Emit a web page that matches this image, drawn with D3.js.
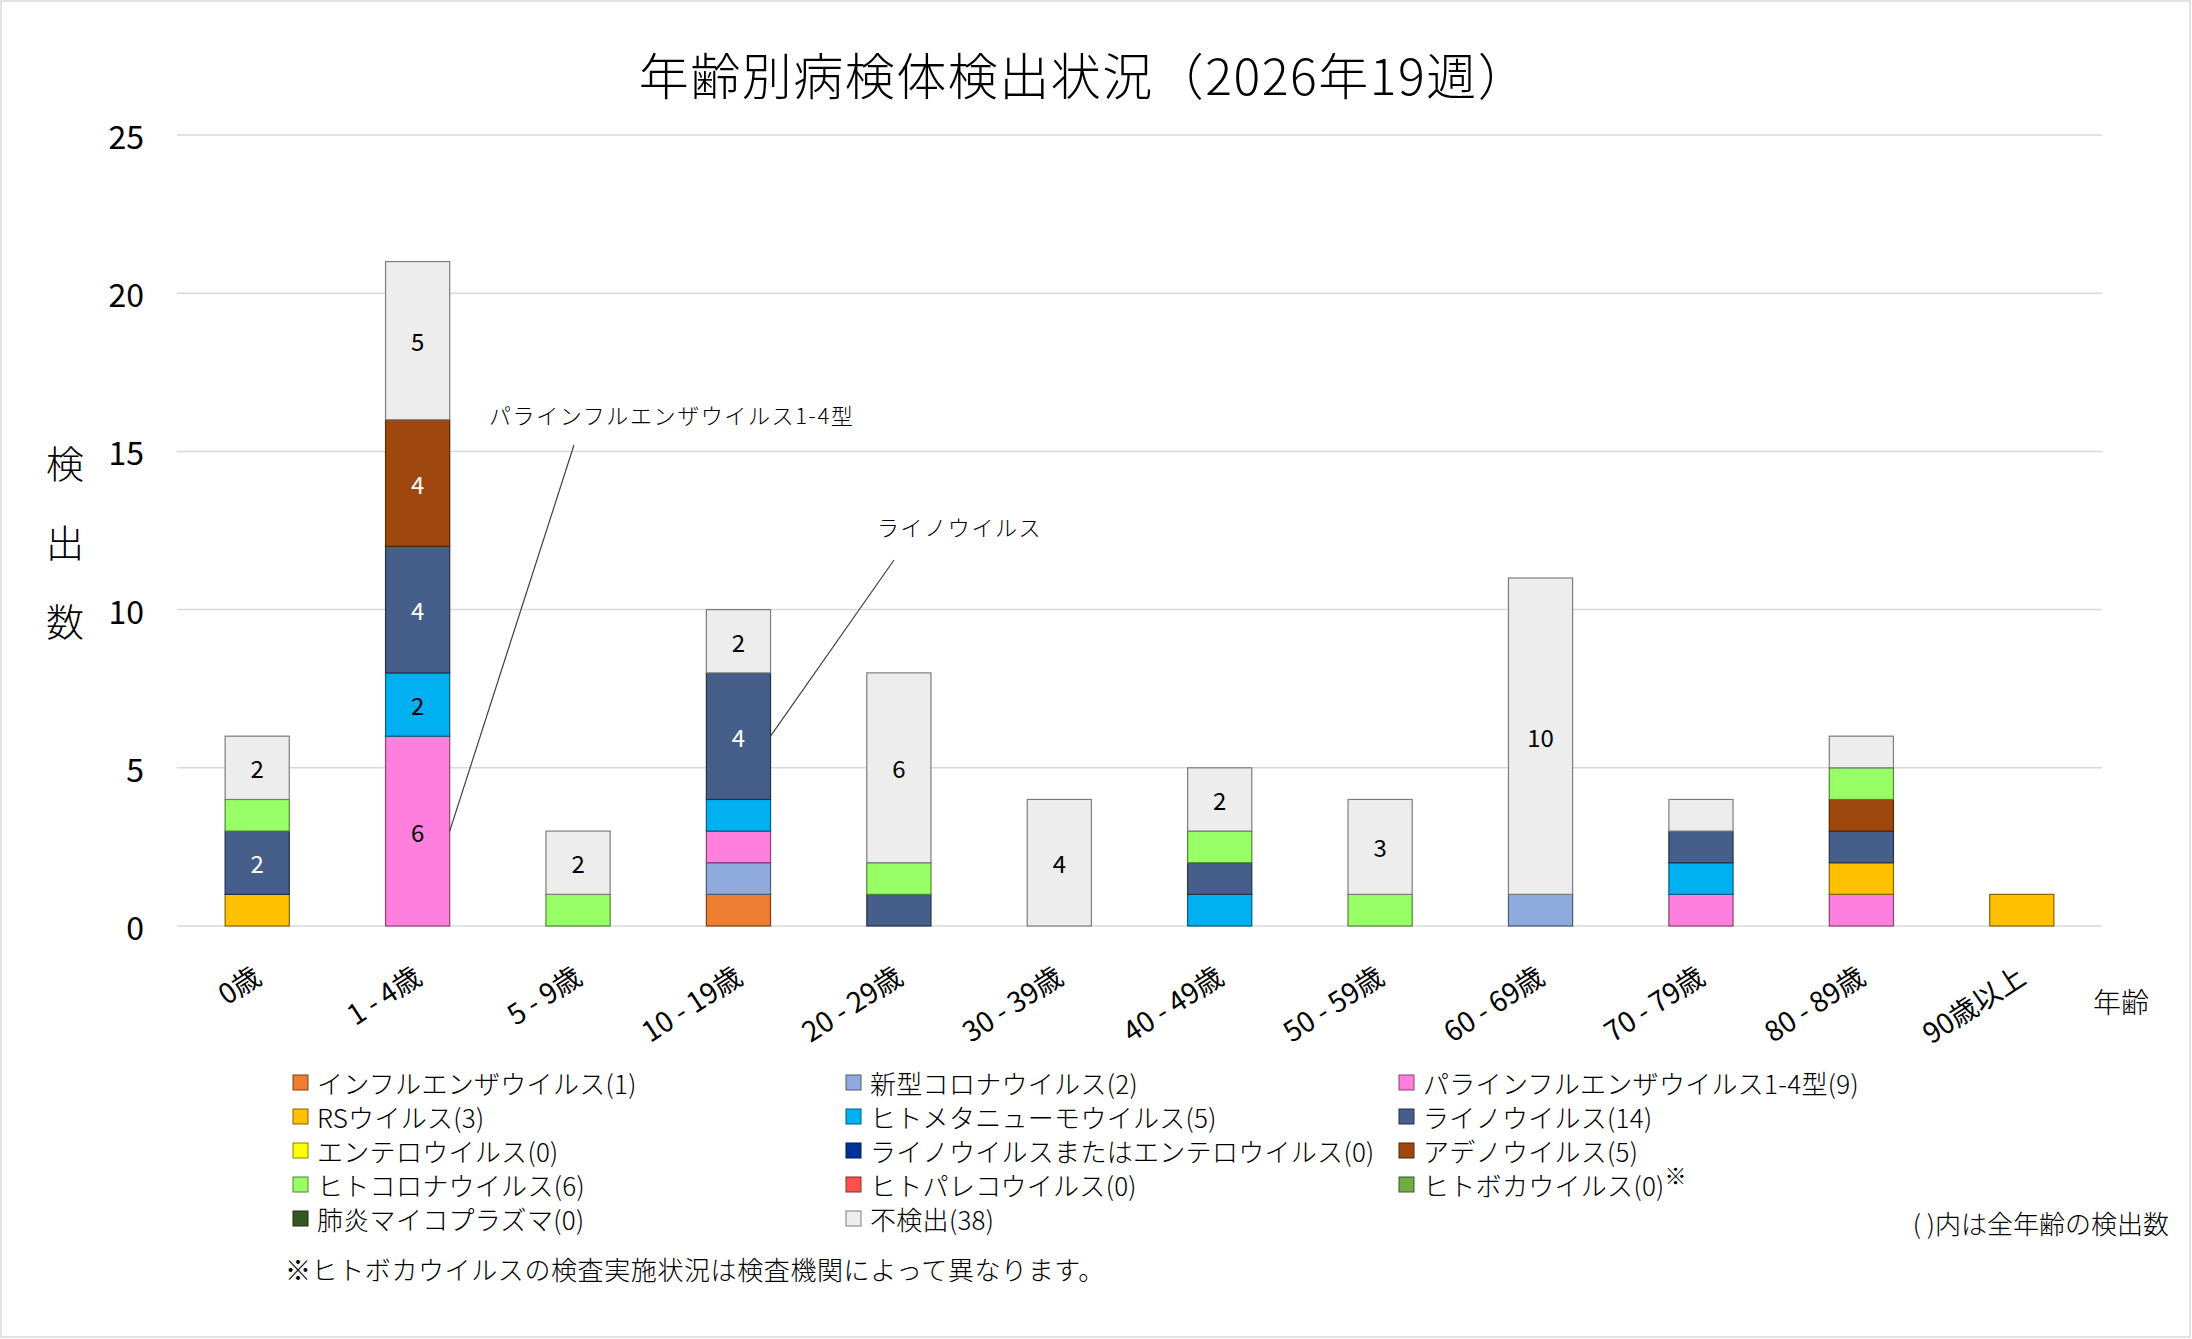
<!DOCTYPE html>
<html>
<head>
<meta charset="utf-8">
<script src="https://cdn.jsdelivr.net/npm/d3@7"></script>
<style>
  html, body { margin: 0; padding: 0; background: #fff; }
  svg text { font-family: "Noto Sans CJK JP", "Noto Sans", sans-serif; fill: #000; }
</style>
</head>
<body>
<div id="chart"></div>
<script>
// age groups on the x axis
const ages = ["0歳", "1 - 4歳", "5 - 9歳", "10 - 19歳", "20 - 29歳", "30 - 39歳",
  "40 - 49歳", "50 - 59歳", "60 - 69歳", "70 - 79歳", "80 - 89歳", "90歳以上"]

// counts per age group, one array per pathogen (stack order = legend order)
const influenza     = [0, 0, 0, 1, 0, 0, 0, 0, 0, 0, 0, 0]
const covid         = [0, 0, 0, 1, 0, 0, 0, 0, 1, 0, 0, 0]
const parainfluenza = [0, 6, 0, 1, 0, 0, 0, 0, 0, 1, 1, 0]
const rsv           = [1, 0, 0, 0, 0, 0, 0, 0, 0, 0, 1, 1]
const metapneumo    = [0, 2, 0, 1, 0, 0, 1, 0, 0, 1, 0, 0]
const rhino         = [2, 4, 0, 4, 1, 0, 1, 0, 0, 1, 1, 0]
const entero        = [0, 0, 0, 0, 0, 0, 0, 0, 0, 0, 0, 0]
const rhinoOrEntero = [0, 0, 0, 0, 0, 0, 0, 0, 0, 0, 0, 0]
const adeno         = [0, 4, 0, 0, 0, 0, 0, 0, 0, 0, 1, 0]
const humanCorona   = [1, 0, 1, 0, 1, 0, 1, 1, 0, 0, 1, 0]
const parecho       = [0, 0, 0, 0, 0, 0, 0, 0, 0, 0, 0, 0]
const boca          = [0, 0, 0, 0, 0, 0, 0, 0, 0, 0, 0, 0]
const mycoplasma    = [0, 0, 0, 0, 0, 0, 0, 0, 0, 0, 0, 0]
const notDetected   = [2, 5, 2, 2, 6, 4, 2, 3, 10, 1, 1, 0]

const seriesNames = ["インフルエンザウイルス", "新型コロナウイルス", "パラインフルエンザウイルス1-4型",
  "RSウイルス", "ヒトメタニューモウイルス", "ライノウイルス", "エンテロウイルス",
  "ライノウイルスまたはエンテロウイルス", "アデノウイルス", "ヒトコロナウイルス",
  "ヒトパレコウイルス", "ヒトボカウイルス", "肺炎マイコプラズマ", "不検出"]
const seriesValues = [influenza, covid, parainfluenza, rsv, metapneumo, rhino, entero,
  rhinoOrEntero, adeno, humanCorona, parecho, boca, mycoplasma, notDetected]
const seriesColors = ["#ED7D31", "#8FAADC", "#FF7FDF", "#FFC000", "#00B0F0", "#465E8A", "#FFFF00",
  "#003399", "#9E480E", "#99FF66", "#FF5050", "#70AD47", "#375623", "#EDEDED"]
const whiteLabel = ["ライノウイルス", "アデノウイルス"]

const yTicks = [0, 5, 10, 15, 20, 25]

const W = 2192, H = 1339
const plotLeft = 177, plotRight = 2102, plotTop = 135, plotBottom = 926

const svg = d3.select("#chart").append("svg")
  .attr("width", W).attr("height", H)

svg.append("rect")
  .attr("x", 1).attr("y", 1).attr("width", W - 3).attr("height", H - 3)
  .attr("fill", "#fff").attr("stroke", "#d9d9d9").attr("stroke-width", 1.5)

// one row per age group
const rows = ages.map((a, i) => {
  const r = { age: a }
  seriesNames.forEach((s, j) => { r[s] = seriesValues[j][i] })
  return r
})

const stack = d3.stack().keys(seriesNames)
const layers = stack(rows)

const x = d3.scaleBand().domain(ages).range([plotLeft, plotRight])
  .paddingInner(0.6).paddingOuter(0.3)
const y = d3.scaleLinear().domain([0, 25]).range([plotBottom, plotTop])

// gridlines
svg.append("g").selectAll("line").data(yTicks).join("line")
  .attr("x1", plotLeft).attr("x2", plotRight)
  .attr("y1", d => y(d)).attr("y2", d => y(d))
  .attr("stroke", "#d9d9d9").attr("stroke-width", 1.5)

// y tick labels
svg.append("g").selectAll("text").data(yTicks).join("text")
  .attr("x", 144).attr("y", d => y(d))
  .attr("text-anchor", "end").attr("dominant-baseline", "central")
  .attr("font-size", 32)
  .text(d => d)

// bars
const layerG = svg.append("g").selectAll("g").data(layers).join("g")
  .attr("fill", (d, i) => seriesColors[i])
  .attr("stroke", (d, i) => d3.color(seriesColors[i]).darker(1.8))
  .attr("stroke-width", 1.2)

layerG.selectAll("rect").data(d => d.filter(p => p[1] - p[0] > 0)).join("rect")
  .attr("x", d => x(d.data.age))
  .attr("width", x.bandwidth())
  .attr("y", d => y(d[1]))
  .attr("height", d => y(d[0]) - y(d[1]))

// value labels (only for 2 or more)
layers.forEach((layer, i) => {
  const name = seriesNames[i]
  svg.append("g").selectAll("text")
    .data(layer.filter(p => p[1] - p[0] >= 2)).join("text")
    .attr("x", d => x(d.data.age) + x.bandwidth() / 2)
    .attr("y", d => y((d[0] + d[1]) / 2))
    .attr("text-anchor", "middle").attr("dominant-baseline", "central")
    .attr("font-size", 24)
    .style("fill", whiteLabel.includes(name) ? "#fff" : "#000")
    .text(d => d[1] - d[0])
})

// x labels, rotated
svg.append("g").selectAll("text").data(ages).join("text")
  .attr("transform", d => `translate(${x(d) + x.bandwidth() / 2 + 6},${982}) rotate(-33)`)
  .attr("text-anchor", "end")
  .attr("font-size", 28)
  .text(d => d)

// axis titles
svg.append("text")
  .attr("x", 2121).attr("y", 1001)
  .attr("text-anchor", "middle").attr("dominant-baseline", "central")
  .attr("font-size", 28).attr("font-weight", 300)
  .text("年齢")

svg.append("g").selectAll("text").data(["検", "出", "数"]).join("text")
  .attr("x", 65).attr("y", (d, i) => 461 + i * 79)
  .attr("text-anchor", "middle").attr("dominant-baseline", "central")
  .attr("font-size", 38).attr("font-weight", 300)
  .text(d => d)

// title
svg.append("text")
  .attr("x", 1084).attr("y", 73)
  .attr("text-anchor", "middle").attr("dominant-baseline", "central")
  .attr("font-size", 50).attr("font-weight", 300).attr("letter-spacing", 1.5)
  .text("年齢別病検体検出状況（2026年19週）")

// callouts
function callout(series, age, tx, ty, lx, ly) {
  const si = seriesNames.indexOf(series)
  const p = layers[si][ages.indexOf(age)]
  svg.append("line")
    .attr("x1", lx).attr("y1", ly)
    .attr("x2", x(age) + x.bandwidth()).attr("y2", y((p[0] + p[1]) / 2))
    .attr("stroke", "#404040").attr("stroke-width", 1.2)
  svg.append("text")
    .attr("x", tx).attr("y", ty)
    .attr("dominant-baseline", "central")
    .attr("font-size", 22).attr("font-weight", 300).attr("letter-spacing", 1.6)
    .text(series)
}
callout("パラインフルエンザウイルス1-4型", "1 - 4歳", 489, 414, 574, 445)
callout("ライノウイルス", "10 - 19歳", 877, 526, 894, 560)

// legend
const legX = [293, 846, 1399]
const legY = [1082, 1116, 1150, 1184, 1218]
const legend = svg.append("g").selectAll("g").data(seriesNames).join("g")
  .attr("transform", (d, i) => `translate(${legX[i % 3]},${legY[Math.floor(i / 3)]})`)
legend.append("rect")
  .attr("x", 0).attr("y", -7).attr("width", 15).attr("height", 15)
  .attr("fill", (d, i) => seriesColors[i])
  .attr("stroke", (d, i) => d3.color(seriesColors[i]).darker(1.8))
  .attr("stroke-width", 1)
const legText = legend.append("text")
  .attr("x", 24).attr("y", 0)
  .attr("dominant-baseline", "central")
  .attr("font-size", 26).attr("font-weight", 300).attr("letter-spacing", 0.3)
  .text((d, i) => `${d}(${d3.sum(seriesValues[i])})`)
legText.filter(d => d === "ヒトボカウイルス").append("tspan")
  .attr("dy", -10).attr("font-size", 22).text("※")

svg.append("text")
  .attr("x", 285).attr("y", 1268)
  .attr("dominant-baseline", "central")
  .attr("font-size", 26).attr("font-weight", 300).attr("letter-spacing", 0.6)
  .text("※ヒトボカウイルスの検査実施状況は検査機関によって異なります。")

svg.append("text")
  .attr("x", 2169).attr("y", 1222)
  .attr("text-anchor", "end").attr("dominant-baseline", "central")
  .attr("font-size", 26).attr("font-weight", 300)
  .text("( )内は全年齢の検出数")
</script>
</body>
</html>
